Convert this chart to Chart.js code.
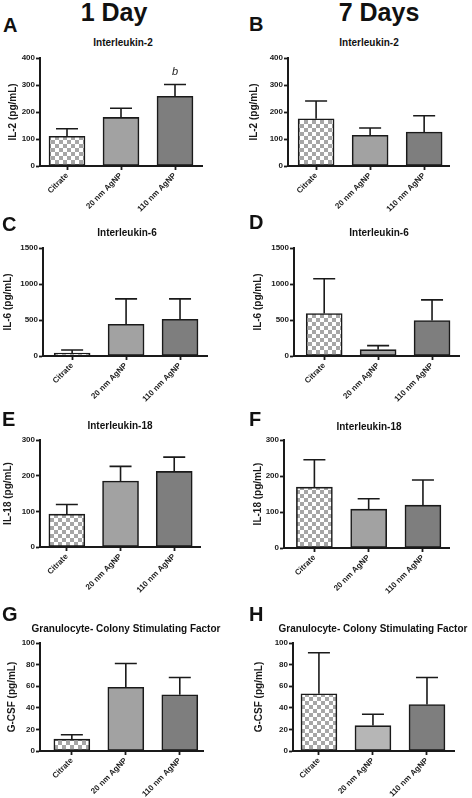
<!DOCTYPE html>
<html>
<head>
<meta charset="utf-8">
<script src="https://cdn.jsdelivr.net/npm/chart.js@4.4.0/dist/chart.umd.min.js"></script>
<style>
html, body { margin: 0; padding: 0; background: #fff; }
#page { position: relative; width: 472px; height: 798px; overflow: hidden; font-family: 'Liberation Sans', Arial, sans-serif; color: #111; }
.txt { position: absolute; font-weight: bold; line-height: 1; white-space: nowrap; }
canvas { position: absolute; }
</style>
</head>
<body>
<div id="page"></div>
<script>
// categories
const categories = ['Citrate', '20 nm AgNP', '110 nm AgNP'];

// IL-2
const il2Day1 = [110, 180, 258];
const il2Day1Err = [28, 34, 44];
const il2Day1Notes = ['', '', 'b'];
const il2Day7 = [175, 114, 126];
const il2Day7Err = [66, 27, 60];

// IL-6
const il6Day1 = [40, 441, 511];
const il6Day1Err = [44, 353, 283];
const il6Day7 = [590, 88, 492];
const il6Day7Err = [483, 56, 288];

// IL-18
const il18Day1 = [92, 185, 212];
const il18Day1Err = [27, 41, 40];
const il18Day7 = [169, 108, 119];
const il18Day7Err = [76, 29, 70];

// G-CSF
const gcsfDay1 = [11, 59, 52];
const gcsfDay1Err = [4, 22, 16];
const gcsfDay7 = [53, 23.5, 43];
const gcsfDay7Err = [38, 10.5, 25];

// y axis ticks (min, max, step)
const il2Ticks = [0, 400, 100];
const il6Ticks = [0, 1500, 500];
const il18Ticks = [0, 300, 100];
const gcsfTicks = [0, 100, 20];

// checker pattern for citrate
function checker() {
    const c = document.createElement('canvas');
    c.width = 8; c.height = 8;
    const g = c.getContext('2d');
    g.fillStyle = '#ffffff';
    g.fillRect(0, 0, 8, 8);
    g.fillStyle = '#a6a6a6';
    g.fillRect(0, 0, 4, 4);
    g.fillRect(4, 4, 4, 4);
    return g.createPattern(c, 'repeat');
}
const pattern = checker();
const normalColors = [pattern, '#a2a2a2', '#7e7e7e'];
const lightColors = [pattern, '#b6b6b6', '#7e7e7e'];

const panels = [
    { id: 'A', title: 'Interleukin-2', yTitle: 'IL-2 (pg/mL)', means: il2Day1, errs: il2Day1Err, notes: il2Day1Notes, ticks: il2Ticks, colors: normalColors },
    { id: 'B', title: 'Interleukin-2', yTitle: 'IL-2 (pg/mL)', means: il2Day7, errs: il2Day7Err, ticks: il2Ticks, colors: normalColors },
    { id: 'C', title: 'Interleukin-6', yTitle: 'IL-6 (pg/mL)', means: il6Day1, errs: il6Day1Err, ticks: il6Ticks, colors: normalColors },
    { id: 'D', title: 'Interleukin-6', yTitle: 'IL-6 (pg/mL)', means: il6Day7, errs: il6Day7Err, ticks: il6Ticks, colors: normalColors },
    { id: 'E', title: 'Interleukin-18', yTitle: 'IL-18 (pg/mL)', means: il18Day1, errs: il18Day1Err, ticks: il18Ticks, colors: normalColors },
    { id: 'F', title: 'Interleukin-18', yTitle: 'IL-18 (pg/mL)', means: il18Day7, errs: il18Day7Err, ticks: il18Ticks, colors: normalColors },
    { id: 'G', title: 'Granulocyte- Colony Stimulating Factor', yTitle: 'G-CSF (pg/mL)', means: gcsfDay1, errs: gcsfDay1Err, ticks: gcsfTicks, colors: normalColors },
    { id: 'H', title: 'Granulocyte- Colony Stimulating Factor', yTitle: 'G-CSF (pg/mL)', means: gcsfDay7, errs: gcsfDay7Err, ticks: gcsfTicks, colors: lightColors }
];

// where each panel sits on the page (pixels)
const layout = {
    A: { L: 40,  R: 202, T: 58,  B: 166, yw: 33, xmin: -0.5,  xmax: 2.5,  tx: 123, ty: 39,  lx: 3,   ly: 18 },
    B: { L: 288, R: 449, T: 58,  B: 166, yw: 40, xmin: -0.52, xmax: 2.46, tx: 369, ty: 39,  lx: 249, ly: 17 },
    C: { L: 43,  R: 207, T: 248, B: 356, yw: 41, xmin: -0.54, xmax: 2.5,  tx: 127, ty: 229, lx: 2,   ly: 217 },
    D: { L: 294, R: 459, T: 248, B: 356, yw: 42, xmin: -0.56, xmax: 2.5,  tx: 379, ty: 229, lx: 249, ly: 215 },
    E: { L: 40,  R: 200, T: 440, B: 547, yw: 38, xmin: -0.5,  xmax: 2.48, tx: 120, ty: 422, lx: 2,   ly: 412 },
    F: { L: 284, R: 449, T: 440, B: 548, yw: 32, xmin: -0.56, xmax: 2.48, tx: 369, ty: 423, lx: 249, ly: 412 },
    G: { L: 40,  R: 203, T: 643, B: 751, yw: 34, xmin: -0.59, xmax: 2.43, tx: 126, ty: 625, lx: 2,   ly: 607 },
    H: { L: 293, R: 454, T: 643, B: 751, yw: 40, xmin: -0.48, xmax: 2.5,  tx: 373, ty: 625, lx: 249, ly: 607 }
};

const page = document.getElementById('page');
const FONT = "'Liberation Sans', Arial, sans-serif";
const INK = '#1a1a1a';

// text placed by cap top
function addText(str, x, capTop, size, center) {
    const d = document.createElement('div');
    d.className = 'txt';
    d.textContent = str;
    d.style.fontSize = size + 'px';
    d.style.top = (capTop - 0.13 * size) + 'px';
    if (center) {
        d.style.left = (x - 200) + 'px';
        d.style.width = '400px';
        d.style.textAlign = 'center';
    } else {
        d.style.left = x + 'px';
    }
    page.appendChild(d);
}

addText('1 Day', 114, 3, 25, true);
addText('7 Days', 379, 3, 25, true);

function errorBars(p) {
    return {
        id: 'errorBars',
        afterDatasetsDraw(chart) {
            const ctx = chart.ctx;
            const y = chart.scales.y;
            const meta = chart.getDatasetMeta(0);
            ctx.save();
            ctx.strokeStyle = INK;
            ctx.lineWidth = 1.6;
            meta.data.forEach((bar, i) => {
                const top = y.getPixelForValue(p.means[i] + p.errs[i]);
                ctx.beginPath();
                ctx.moveTo(bar.x, bar.y);
                ctx.lineTo(bar.x, top);
                ctx.moveTo(bar.x - 11, top);
                ctx.lineTo(bar.x + 11, top);
                ctx.stroke();
                if (p.notes && p.notes[i]) {
                    ctx.fillStyle = INK;
                    ctx.font = 'italic 11px ' + FONT;
                    ctx.textAlign = 'center';
                    ctx.textBaseline = 'alphabetic';
                    ctx.fillText(p.notes[i], bar.x, top - 9);
                }
            });
            ctx.restore();
        }
    };
}

const PT = 10, PR = 6, XH = 56;

panels.forEach(p => {
    const lay = layout[p.id];
    addText(p.id, lay.lx, lay.ly, 20, false);
    addText(p.title, lay.tx, lay.ty, 10, true);

    const cv = document.createElement('canvas');
    const w = lay.yw + (lay.R - lay.L) + PR;
    const h = PT + (lay.B - lay.T) + XH;
    cv.width = w; cv.height = h;
    cv.style.width = w + 'px'; cv.style.height = h + 'px';
    cv.style.left = (lay.L - lay.yw) + 'px';
    cv.style.top = (lay.T - PT) + 'px';
    page.appendChild(cv);

    new Chart(cv, {
        type: 'bar',
        data: {
            datasets: [{
                data: p.means.map((v, i) => ({ x: i, y: v })),
                backgroundColor: p.colors,
                borderColor: INK,
                borderWidth: 1.6,
                borderSkipped: false,
                barThickness: 36
            }]
        },
        options: {
            responsive: false,
            animation: false,
            devicePixelRatio: 1,
            layout: { padding: { top: PT, right: PR, left: 0, bottom: 0 } },
            plugins: {
                legend: { display: false },
                tooltip: { enabled: false },
                title: { display: false }
            },
            scales: {
                x: {
                    type: 'linear',
                    offset: false,
                    min: lay.xmin,
                    max: lay.xmax,
                    afterBuildTicks: s => { s.ticks = categories.map((c, i) => ({ value: i })); },
                    afterFit: s => { s.height = XH; },
                    ticks: {
                        callback: v => categories[v],
                        autoSkip: false,
                        minRotation: 45,
                        maxRotation: 45,
                        padding: 1,
                        color: INK,
                        font: { family: FONT, size: 8, weight: 'bold' }
                    },
                    grid: { offset: false, drawOnChartArea: false, tickLength: 4, tickColor: INK, tickWidth: 1.8 },
                    border: { display: true, color: INK, width: 2 }
                },
                y: {
                    min: p.ticks[0],
                    max: p.ticks[1],
                    afterFit: s => { s.width = lay.yw; },
                    ticks: {
                        stepSize: p.ticks[2],
                        callback: v => String(v),
                        padding: 1,
                        color: INK,
                        font: { family: FONT, size: 8, weight: 'bold' }
                    },
                    grid: { drawOnChartArea: false, tickLength: 4, tickColor: INK, tickWidth: 1.8 },
                    border: { display: true, color: INK, width: 2 },
                    title: {
                        display: true,
                        text: p.yTitle,
                        color: INK,
                        padding: 0,
                        font: { family: FONT, size: 10, weight: 'bold' }
                    }
                }
            }
        },
        plugins: [errorBars(p)]
    });
});
</script>
</body>
</html>
